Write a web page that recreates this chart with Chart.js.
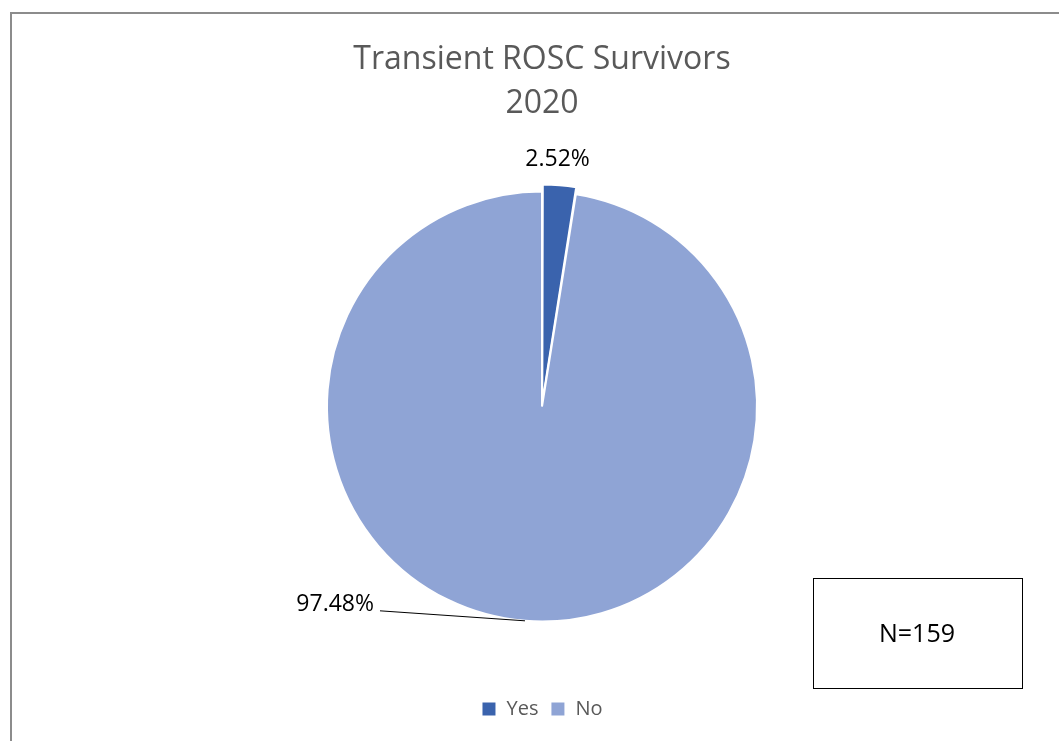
<!DOCTYPE html>
<html>
<head>
<meta charset="utf-8">
<script src="https://cdn.jsdelivr.net/npm/chart.js@4/dist/chart.umd.min.js"></script>
<style>
  html, body { margin: 0; padding: 0; background: #fff; }
  #wrap { width: 1059px; height: 741px; }
</style>
</head>
<body>
<div id="wrap"><canvas id="c" width="1059" height="741"></canvas></div>
<script>
// chart data
const categories = ["Yes", "No"];
const shares = [2.52, 97.48];
const sliceColors = ["#3A63AD", "#8FA4D5"];
const titleLines = ["Transient ROSC Survivors", "2020"];
const sampleNote = "N=159";

const FONT = "'Open Sans', 'Noto Sans', sans-serif";

// frame + N box behind / on top of the chart
const framePlugin = {
  id: "frame",
  beforeDraw(chart) {
    const ctx = chart.ctx;
    ctx.save();
    ctx.fillStyle = "#fff";
    ctx.fillRect(0, 0, chart.width, chart.height);
    ctx.strokeStyle = "#8c8c8c";
    ctx.lineWidth = 2;
    ctx.strokeRect(11, 13, chart.width + 20, chart.height + 20);
    ctx.restore();
  },
  afterDraw(chart) {
    const ctx = chart.ctx;
    ctx.save();
    ctx.strokeStyle = "#000";
    ctx.lineWidth = 1;
    ctx.strokeRect(813.5, 578.5, 209, 110);
    ctx.fillStyle = "#000";
    ctx.font = "25px " + FONT;
    ctx.textAlign = "center";
    ctx.textBaseline = "middle";
    ctx.fillText(sampleNote, 917, 635);
    ctx.restore();
  },
};

// percentage labels, the big slice gets a leader line
const pctLabels = {
  id: "pctLabels",
  afterDatasetsDraw(chart) {
    const ctx = chart.ctx;
    const meta = chart.getDatasetMeta(0);
    const ds = chart.data.datasets[0];
    ctx.save();
    ctx.font = "23px " + FONT;
    ctx.fillStyle = "#000";
    ctx.textBaseline = "middle";
    meta.data.forEach((arc, i) => {
      const p = arc.getProps(["x", "y", "startAngle", "endAngle", "outerRadius"], true);
      const mid = (p.startAngle + p.endAngle) / 2;
      const txt = ds.data[i].toFixed(2) + "%";
      const off = ds.offset[i] || 0;
      if (i === 0) {
        const r = p.outerRadius + off + 18;
        ctx.textAlign = "center";
        ctx.fillText(txt, p.x + Math.cos(mid) * r - 4, p.y + Math.sin(mid) * r);
      } else {
        const ex = p.x + Math.cos(mid) * p.outerRadius;
        const ey = p.y + Math.sin(mid) * p.outerRadius;
        ctx.strokeStyle = "#000";
        ctx.lineWidth = 1;
        ctx.beginPath();
        ctx.moveTo(ex - 145, ey - 10);
        ctx.lineTo(ex, ey);
        ctx.stroke();
        ctx.textAlign = "right";
        ctx.fillText(txt, ex - 151, ey - 16);
      }
    });
    ctx.restore();
  },
};

new Chart(document.getElementById("c"), {
  type: "pie",
  data: {
    labels: categories,
    datasets: [
      {
        data: shares,
        backgroundColor: sliceColors,
        borderColor: "#fff",
        borderWidth: 2,
        offset: [15, 0],
      },
    ],
  },
  options: {
    responsive: false,
    animation: false,
    radius: 215,
    layout: { padding: { top: 14, left: 35, right: 10, bottom: 12 } },
    plugins: {
      title: {
        display: true,
        text: titleLines,
        color: "#595959",
        font: { family: FONT, size: 32, weight: "normal", lineHeight: 1.375 },
        padding: { top: 24, bottom: 0 },
      },
      legend: {
        position: "bottom",
        labels: {
          color: "#595959",
          font: { family: FONT, size: 20 },
          boxWidth: 15,
          boxHeight: 15,
          padding: 12,
        },
      },
      tooltip: { enabled: false },
    },
  },
  plugins: [framePlugin, pctLabels],
});
</script>
</body>
</html>
